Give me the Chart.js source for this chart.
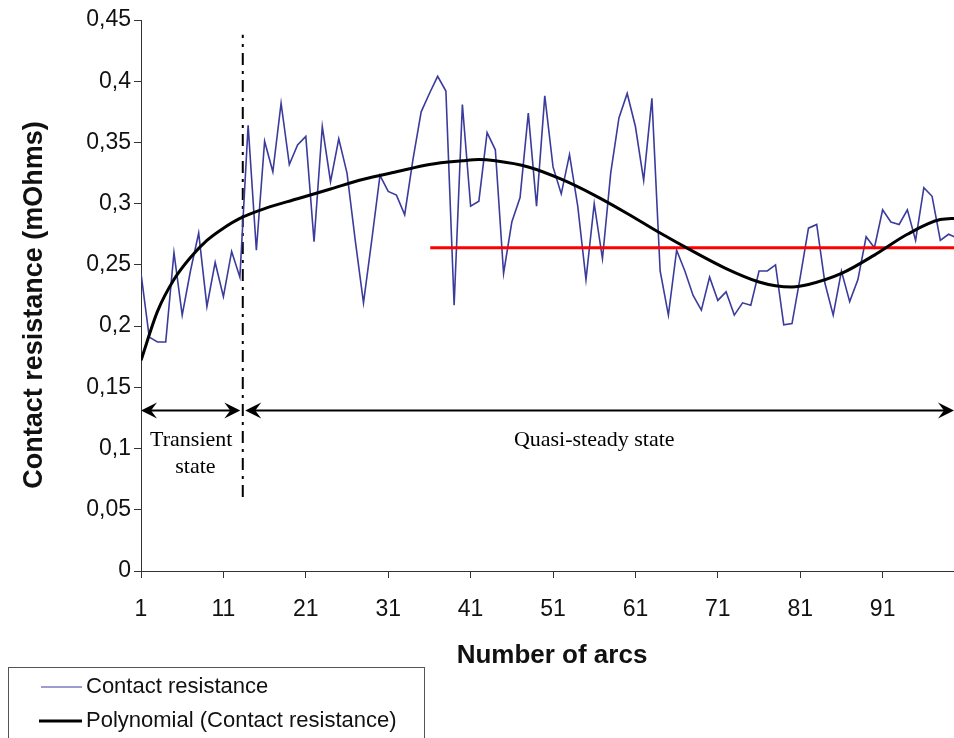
<!DOCTYPE html>
<html><head><meta charset="utf-8">
<script src="https://cdn.jsdelivr.net/npm/chart.js@4.4.0/dist/chart.umd.min.js"></script>
<style>html,body{margin:0;padding:0;background:#fff;overflow:hidden}#wrap{position:relative;width:954px;height:738px}</style>
</head><body><div id="wrap"><canvas id="c" width="954" height="738"></canvas></div>
<script>
// ---- data ----
const arcs = [];
for (let i = 1; i <= 100; i++) arcs.push(i);
const resistance = [
  0.243,0.191,0.187,0.187,0.260,0.209,0.245,0.276,0.216,0.252,
  0.224,0.261,0.240,0.364,0.262,0.351,0.326,0.382,0.332,0.348,
  0.355,0.269,0.363,0.318,0.353,0.325,0.270,0.219,0.270,0.323,
  0.310,0.307,0.291,0.336,0.375,0.390,0.404,0.392,0.217,0.381,
  0.298,0.302,0.358,0.344,0.243,0.285,0.305,0.374,0.298,0.388,
  0.330,0.308,0.340,0.298,0.238,0.300,0.255,0.325,0.370,0.390,
  0.363,0.319,0.386,0.245,0.209,0.262,0.245,0.225,0.213,0.240,
  0.221,0.228,0.209,0.219,0.217,0.245,0.245,0.250,0.201,0.202,
  0.240,0.280,0.283,0.235,0.209,0.245,0.220,0.238,0.273,0.264,
  0.295,0.285,0.283,0.295,0.270,0.313,0.306,0.270,0.275,0.272
];
const trendArcs   = [1,3,5,7,9,11,13,16,20,24,28,32,36,40,42,44,48,52,56,60,64,68,72,76,78,80,82,86,90,94,98,100];
const trendValues = [0.172,0.212,0.238,0.256,0.270,0.280,0.288,0.296,0.304,0.312,0.320,0.326,0.332,0.335,0.336,0.335,0.330,0.320,0.307,0.292,0.276,0.261,0.247,0.236,0.233,0.232,0.234,0.243,0.258,0.275,0.287,0.288];
const meanArcs   = [36.1, 100];
const meanValues = [0.264, 0.264];
const transientArcs   = [13.35, 13.35];
const transientValues = [0.0605, 0.438];
const arrowLevel = 0.131;
const transientSpan = [1, 13.05];
const steadySpan = [13.65, 99.66];
const xTicks = [1,11,21,31,41,51,61,71,81,91];
const yTicks = [0,0.05,0.1,0.15,0.2,0.25,0.3,0.35,0.4,0.45];
const yTickLabels = ['0','0,05','0,1','0,15','0,2','0,25','0,3','0,35','0,4','0,45'];
const phaseTexts = ['Transient','state','Quasi-steady state'];
const phaseArcs = [7.1, 7.6, 56.0];
const phaseValues = [0.107, 0.085, 0.107];
const seriesNames = ['Contact resistance','Polynomial (Contact resistance)'];
const xTitle = 'Number of arcs';
const yTitle = 'Contact resistance (mOhms)';

// ---- drawing ----
const SANS = '"Liberation Sans", Arial, sans-serif';
const SERIF = '"Liberation Serif", "Times New Roman", serif';
const BLUE = '#3b3b9c';

const pts = (xs, ys) => xs.map((v, i) => ({x: v, y: ys[i]}));

function arrowHead(ctx, tx, ty, dir) {
  ctx.beginPath();
  ctx.moveTo(tx, ty);
  ctx.lineTo(tx - dir * 16, ty - 8);
  ctx.lineTo(tx - dir * 10, ty);
  ctx.lineTo(tx - dir * 16, ty + 8);
  ctx.closePath();
  ctx.fill();
}

const annot = {
  id: 'annot',
  afterDraw(chart) {
    const {ctx, scales: {x, y}, chartArea: ca} = chart;
    ctx.save();
    ctx.fillStyle = '#000';
    ctx.strokeStyle = '#000';
    // arrows
    const ay = y.getPixelForValue(arrowLevel);
    [transientSpan, steadySpan].forEach(sp => {
      const a = x.getPixelForValue(sp[0]);
      const b = Math.min(x.getPixelForValue(sp[1]), ca.right);
      ctx.lineWidth = 2;
      ctx.beginPath(); ctx.moveTo(a + 4, ay); ctx.lineTo(b - 4, ay); ctx.stroke();
      arrowHead(ctx, a, ay, -1);
      arrowHead(ctx, b, ay, 1);
    });
    // phase texts
    ctx.font = '22px ' + SERIF;
    ctx.textAlign = 'center';
    ctx.textBaseline = 'middle';
    phaseTexts.forEach((t, i) => {
      ctx.fillText(t, x.getPixelForValue(phaseArcs[i]), y.getPixelForValue(phaseValues[i]));
    });
    // axis titles
    ctx.fillStyle = '#111';
    ctx.font = 'bold 26px ' + SANS;
    ctx.fillText(xTitle, 552, 656);
    ctx.save();
    ctx.translate(35, 305);
    ctx.rotate(-Math.PI / 2);
    ctx.font = 'bold 27px ' + SANS;
    ctx.fillText(yTitle, 0, 0);
    ctx.restore();
    // legend
    ctx.strokeStyle = '#555';
    ctx.lineWidth = 1;
    ctx.strokeRect(8.5, 667.5, 416, 90);
    ctx.textAlign = 'left';
    ctx.font = '22px ' + SANS;
    ctx.fillStyle = '#111';
    ctx.strokeStyle = BLUE; ctx.lineWidth = 1.2;
    ctx.beginPath(); ctx.moveTo(41, 687); ctx.lineTo(82, 687); ctx.stroke();
    ctx.fillText(seriesNames[0], 86, 687);
    ctx.strokeStyle = '#000'; ctx.lineWidth = 3;
    ctx.beginPath(); ctx.moveTo(39, 721); ctx.lineTo(82, 721); ctx.stroke();
    ctx.fillText(seriesNames[1], 86, 721);
    ctx.restore();
  }
};

new Chart(document.getElementById('c'), {
  type: 'line',
  data: {
    datasets: [
      {label: seriesNames[1], data: pts(trendArcs, trendValues), borderColor: '#000', borderWidth: 3,
       pointRadius: 0, tension: 0.4, cubicInterpolationMode: 'monotone', fill: false},
      {label: 'mean', data: pts(meanArcs, meanValues), borderColor: '#ff0000', borderWidth: 3,
       pointRadius: 0, fill: false},
      {label: seriesNames[0], data: pts(arcs, resistance), borderColor: BLUE, borderWidth: 1.6,
       pointRadius: 0, tension: 0, fill: false},
      {label: 'limit', data: pts(transientArcs, transientValues), borderColor: '#000', borderWidth: 2,
       borderDash: [12, 6, 3, 6], pointRadius: 0, fill: false}
    ]
  },
  options: {
    responsive: false,
    animation: false,
    events: [],
    layout: {padding: {top: 20, left: 0, right: 0, bottom: 0}},
    plugins: {legend: {display: false}, tooltip: {enabled: false}},
    scales: {
      x: {
        type: 'linear', min: 1, max: 99.66,
        afterFit: s => { s.height = 167; },
        afterBuildTicks: s => { s.ticks = xTicks.map(v => ({value: v})); },
        ticks: {font: {size: 23, family: SANS}, color: '#111', padding: 18, maxRotation: 0,
                autoSkip: false, callback: v => String(v)},
        grid: {display: true, drawOnChartArea: false, drawTicks: true, tickLength: 7, color: '#333'},
        border: {color: '#333', width: 1}
      },
      y: {
        min: 0, max: 0.45,
        afterFit: s => { s.width = 141; },
        afterBuildTicks: s => { s.ticks = yTicks.map(v => ({value: v})); },
        ticks: {font: {size: 23, family: SANS}, color: '#111', padding: 3,
                callback: (v, i) => yTickLabels[i]},
        grid: {display: true, drawOnChartArea: false, drawTicks: true, tickLength: 7, color: '#333'},
        border: {color: '#333', width: 1}
      }
    }
  },
  plugins: [annot]
});
</script></body></html>
